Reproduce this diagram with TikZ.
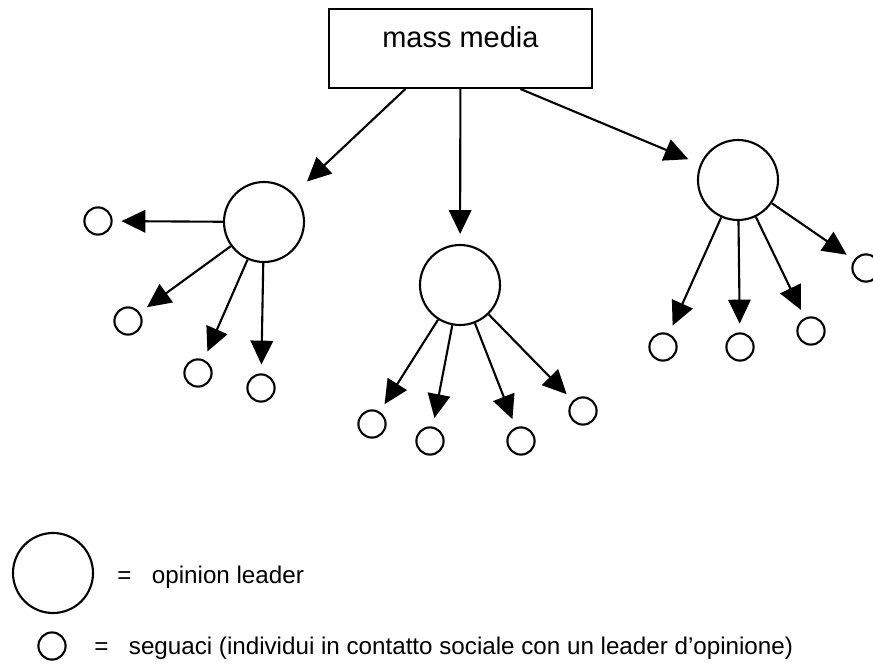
\documentclass[tikz,border=0pt]{standalone}
\usepackage{fontspec}
\setmainfont{Liberation Sans}
\usetikzlibrary{shapes,arrows.meta}

\begin{document}
\begin{tikzpicture}
	[
		mediabox/.style={rectangle, draw=black, line width=1.5pt, minimum width=6.575cm, minimum height=1.975cm, text height=0.53cm, text depth=0.6cm, font=\fontsize{20.6}{24}\selectfont},
		leadernode/.style={circle, draw=black, line width=1.5pt, minimum size=2cm, inner sep=0pt},
		followernode/.style={circle, draw=black, line width=1.5pt, minimum size=0.68cm, inner sep=0pt},
		legendtext/.style={anchor=base west, inner sep=0pt, font=\fontsize{17.2}{20}\selectfont},
		influence/.style={-{Triangle[length=17pt, width=16pt]}, line width=1.5pt, shorten >=0.22cm},
	]

	\useasboundingbox (0,0) rectangle (21.825,-16.625);

	\node [mediabox] (media) at (11.51,-1.21) {mass media};

	\node [leadernode] (leaderA) at (6.6,-5.55) {};
	\node [leadernode] (leaderB) at (11.5,-7.125) {};
	\node [leadernode] (leaderC) at (18.45,-4.5) {};

	% followers of each opinion leader
	\node [followernode] (followerA1) at (2.45,-5.525) {};
	\node [followernode] (followerA2) at (3.2,-8.025) {};
	\node [followernode] (followerA3) at (4.95,-9.325) {};
	\node [followernode] (followerA4) at (6.525,-9.7) {};

	\node [followernode] (followerB1) at (9.3,-10.6) {};
	\node [followernode] (followerB2) at (10.75,-11.025) {};
	\node [followernode] (followerB3) at (13.025,-11.025) {};
	\node [followernode] (followerB4) at (14.575,-10.275) {};

	\node [followernode] (followerC1) at (16.575,-8.675) {};
	\node [followernode] (followerC2) at (18.5,-8.675) {};
	\node [followernode] (followerC3) at (20.275,-8.275) {};
	\node [followernode] (followerC4) at (21.65,-6.7) {};

	\draw[influence, shorten >=0.45cm] ([xshift=-1.375cm]media.south) -- (leaderA);
	\draw[influence, shorten >=0.25cm] (media.south) -- (leaderB);
	\draw[influence, shorten >=0.32cm] ([xshift=1.5cm]media.south) -- (leaderC);

	\draw[influence] (leaderA) -- (followerA1);
	\draw[influence] (leaderA) -- (followerA2);
	\draw[influence] (leaderA) -- (followerA3);
	\draw[influence] (leaderA) -- (followerA4);

	\draw[influence] (leaderB) -- (followerB1);
	\draw[influence] (leaderB) -- (followerB2);
	\draw[influence] (leaderB) -- (followerB3);
	\draw[influence] (leaderB) -- (followerB4);

	\draw[influence] (leaderC) -- (followerC1);
	\draw[influence] (leaderC) -- (followerC2);
	\draw[influence] (leaderC) -- (followerC3);
	\draw[influence] (leaderC) -- (followerC4);

	% legend
	\node [leadernode] (legendleader) at (1.325,-14.325) {};
	\node [legendtext] (leadertext) at (2.925,-14.575) {=\hspace{0.85em}opinion leader};
	\node [followernode] (legendfollower) at (1.3,-16.15) {};
	\node [legendtext] (followertext) at (2.35,-16.35) {=\hspace{0.85em}seguaci (individui in contatto sociale con un leader d’opinione)};

\end{tikzpicture}
\end{document}
